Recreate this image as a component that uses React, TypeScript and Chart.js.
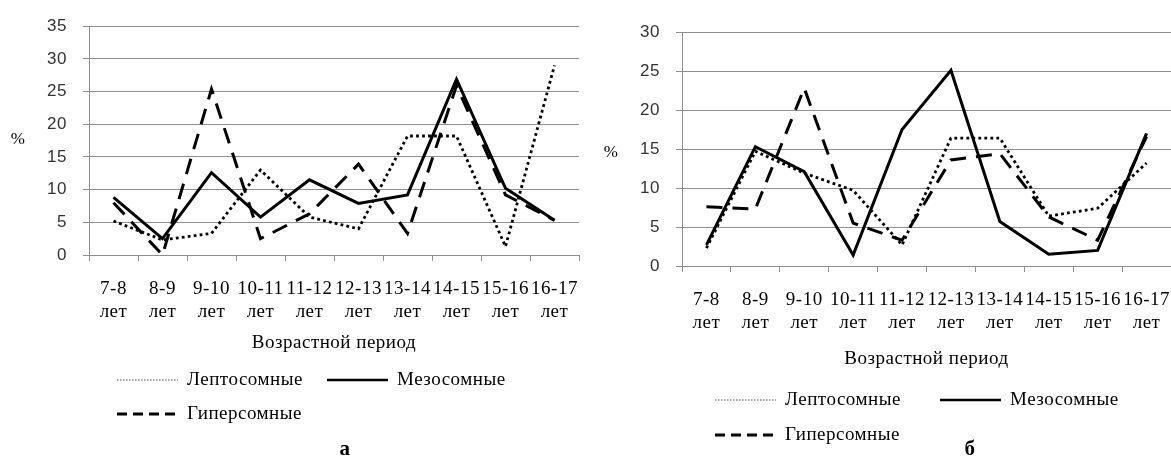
import React, { useEffect, useRef } from 'react';
import { Chart, registerables } from 'chart.js';

Chart.register(...registerables);

// ---- data ----
const ageRanges = ['7-8', '8-9', '9-10', '10-11', '11-12', '12-13', '13-14', '14-15', '15-16', '16-17'];
const yearsWord = 'лет';
const seriesNames = ['Лептосомные', 'Мезосомные', 'Гиперсомные'];
const xAxisTitle = 'Возрастной период';
const yAxisUnit = '%';
const yStep = 5;

const leptoA = [5.2, 2.3, 3.3, 13.0, 5.8, 4.0, 18.2, 18.2, 1.3, 29.0];
const mezoA = [8.8, 2.5, 12.6, 5.8, 11.5, 7.9, 9.2, 26.9, 10.2, 5.3];
const hyperA = [8.0, 0.0, 25.4, 2.5, 6.3, 13.9, 3.3, 25.9, 9.2, 5.3];
const yMaxA = 35;
const captionA = 'а';

const leptoB = [2.3, 14.7, 11.9, 9.7, 2.7, 16.4, 16.4, 6.4, 7.4, 13.2];
const mezoB = [2.7, 15.3, 12.1, 1.4, 17.5, 25.1, 5.7, 1.5, 2.0, 17.0];
const hyperB = [7.6, 7.3, 22.8, 5.5, 3.3, 13.6, 14.4, 6.3, 3.3, 16.6];
const yMaxB = 30;
const captionB = 'б';

// ---- styles ----
const gridColor = '#8f8f8f';
const lineStyles = [
  { width: 2.8, dash: [2.8, 3.2], legendWidth: 1, legendDash: [1.5, 1.5], legendColor: '#444' },
  { width: 3, dash: [] as number[], legendWidth: 2.5, legendDash: [] as number[], legendColor: '#000' },
  { width: 3, dash: [16, 10], legendWidth: 3, legendDash: [10, 6], legendColor: '#000' },
];

type PanelLayout = {
  left: number;
  width: number;
  plotLeft: number;
  plotTop: number;
  plotBottom: number;
  padRight: number;
  xAxisHeight: number;
  unitPos: [number, number];
  legend: [number, number][];
  captionPos: [number, number];
};

const layoutA: PanelLayout = {
  left: 0, width: 580, plotLeft: 89, plotTop: 21, plotBottom: 255, padRight: 1, xAxisHeight: 99,
  unitPos: [18, 140], legend: [[117, 380], [327, 380], [117, 414]], captionPos: [345, 450],
};
const layoutB: PanelLayout = {
  left: 590, width: 581, plotLeft: 92, plotTop: 32, plotBottom: 266, padRight: 0, xAxisHeight: 104,
  unitPos: [21, 153], legend: [[125, 400], [350, 400], [125, 435]], captionPos: [380, 450],
};

const HEIGHT = 460;
const serif = '"Liberation Serif", "Times New Roman", serif';

const decorPlugin = {
  id: 'panelDecor',
  beforeUpdate(chart: any) {
    chart.ctx.letterSpacing = '0.5px';
  },
  beforeDraw(chart: any) {
    const ctx = chart.ctx;
    ctx.letterSpacing = '0.5px';
    ctx.save();
    ctx.fillStyle = '#fff';
    ctx.fillRect(0, 0, chart.width, chart.height);
    ctx.restore();
  },
  afterDraw(chart: any, _args: any, opts: any) {
    const ctx = chart.ctx;
    ctx.save();
    ctx.fillStyle = '#000';
    ctx.textBaseline = 'middle';
    ctx.textAlign = 'center';
    ctx.font = `17px ${serif}`;
    ctx.fillText(opts.unit, opts.unitPos[0], opts.unitPos[1]);
    ctx.textAlign = 'left';
    ctx.font = `19px ${serif}`;
    chart.data.datasets.forEach((ds: any, i: number) => {
      const [x, y] = opts.legend[i];
      const st = lineStyles[i];
      ctx.save();
      ctx.strokeStyle = st.legendColor;
      ctx.lineWidth = st.legendWidth;
      ctx.setLineDash(st.legendDash);
      ctx.beginPath();
      ctx.moveTo(x, y);
      ctx.lineTo(x + 61, y);
      ctx.stroke();
      ctx.restore();
      ctx.fillText(ds.label, x + 70, y);
    });
    ctx.textAlign = 'center';
    ctx.font = `bold 21px ${serif}`;
    ctx.fillText(opts.caption, opts.captionPos[0], opts.captionPos[1]);
    ctx.restore();
  },
};

function Panel(props: { series: number[][]; yMax: number; L: PanelLayout; caption: string }) {
  const ref = useRef<HTMLCanvasElement>(null);
  const { series, yMax, L, caption } = props;
  useEffect(() => {
    if (!ref.current) return;
    const chart = new Chart(ref.current, {
      type: 'line',
      data: {
        labels: ageRanges.map((r) => [r, yearsWord]),
        datasets: series.map((vals, i) => ({
          label: seriesNames[i],
          data: vals,
          borderColor: '#000',
          backgroundColor: '#000',
          borderWidth: lineStyles[i].width,
          borderDash: lineStyles[i].dash,
          borderCapStyle: 'butt',
          borderJoinStyle: 'miter',
          pointRadius: 0,
          tension: 0,
          fill: false,
        })),
      },
      options: {
        animation: false,
        responsive: false,
        devicePixelRatio: 1,
        layout: {
          padding: {
            left: 0,
            right: L.padRight,
            top: L.plotTop,
            bottom: HEIGHT - L.plotBottom - L.xAxisHeight,
          },
        },
        plugins: {
          legend: { display: false },
          tooltip: { enabled: false },
          panelDecor: {
            unit: yAxisUnit,
            unitPos: L.unitPos,
            legend: L.legend,
            caption,
            captionPos: L.captionPos,
          },
        } as any,
        scales: {
          x: {
            type: 'category',
            offset: true,
            grid: { offset: true, drawOnChartArea: false, drawTicks: true, tickLength: 6, color: gridColor },
            border: { display: true, color: gridColor },
            ticks: {
              autoSkip: false,
              maxRotation: 0,
              minRotation: 0,
              padding: 16.5,
              color: '#000',
              font: { family: serif, size: 19, lineHeight: 23 / 19 },
            },
            title: {
              display: true,
              text: xAxisTitle,
              color: '#000',
              font: { family: serif, size: 19, lineHeight: 1.2 },
              padding: 0,
            },
            afterFit: (s: any) => {
              s.height = L.xAxisHeight;
              s.paddingLeft = 0;
              s.paddingRight = 0;
            },
          },
          y: {
            min: 0,
            max: yMax,
            ticks: {
              stepSize: yStep,
              padding: 16,
              color: '#333',
              font: { family: '"Liberation Sans", Arial, sans-serif', size: 17 },
            },
            grid: { color: gridColor, tickLength: 6, drawTicks: true },
            border: { display: true, color: gridColor },
            afterFit: (s: any) => {
              s.width = L.plotLeft;
            },
          },
        },
      } as any,
      plugins: [decorPlugin as any],
    });
    return () => chart.destroy();
  }, [series, yMax, L, caption]);
  return (
    <canvas
      ref={ref}
      width={L.width}
      height={HEIGHT}
      style={{ position: 'absolute', left: L.left, top: 0, width: L.width, height: HEIGHT, display: 'block' }}
    />
  );
}

const seriesA = [leptoA, mezoA, hyperA];
const seriesB = [leptoB, mezoB, hyperB];

export default function App() {
  return (
    <div style={{ position: 'absolute', left: 0, top: 0, width: 1171, height: HEIGHT, background: '#fff', overflow: 'hidden' }}>
      <Panel series={seriesA} yMax={yMaxA} L={layoutA} caption={captionA} />
      <Panel series={seriesB} yMax={yMaxB} L={layoutB} caption={captionB} />
    </div>
  );
}
